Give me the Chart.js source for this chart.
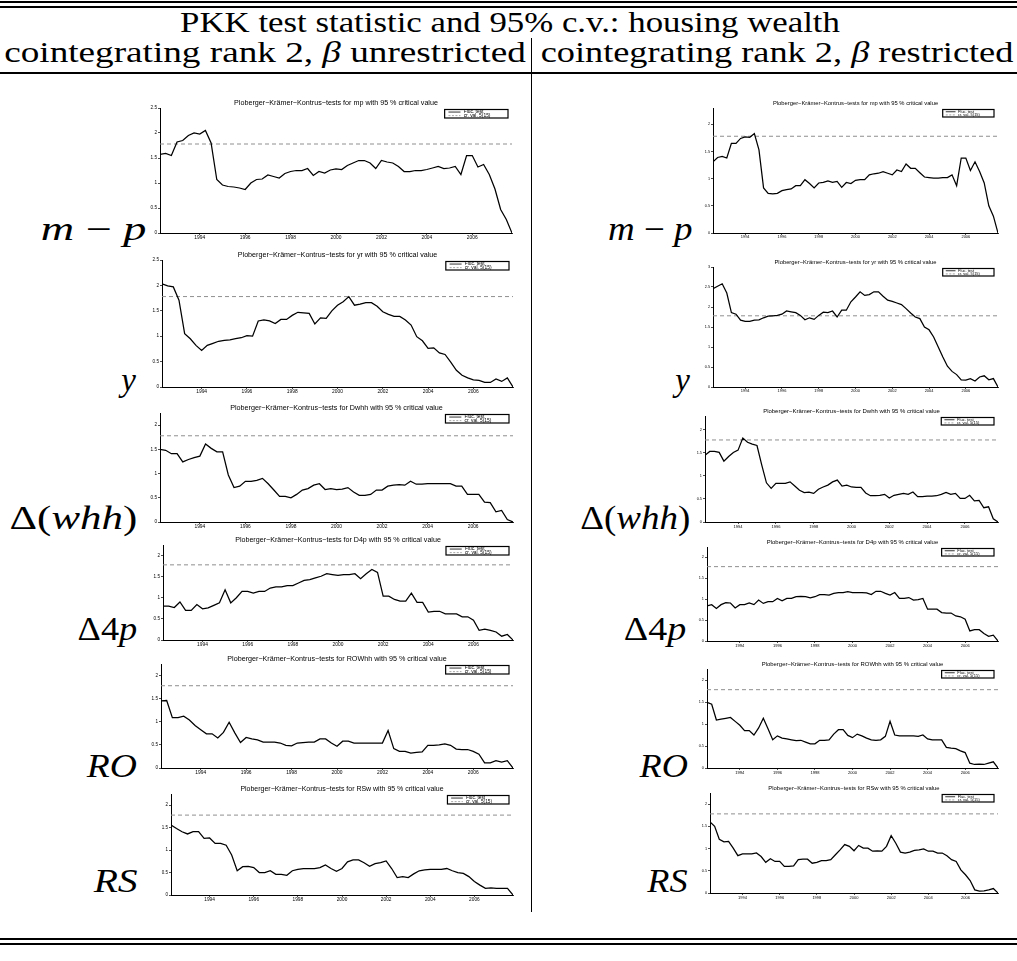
<!DOCTYPE html>
<html>
<head>
<meta charset="utf-8">
<title>PKK test statistic and 95% c.v.: housing wealth</title>
<script src="https://cdn.jsdelivr.net/npm/chart.js@4.4.1/dist/chart.umd.min.js"></script>
<style>
  html, body { margin: 0; padding: 0; background: #fff; }
  #page { position: relative; width: 1017px; height: 961px; overflow: hidden; background: #fff; }
  .rule { position: absolute; background: #000; }
  .tx { position: absolute; white-space: nowrap; line-height: 1; color: #000;
        font-family: "Liberation Serif", "DejaVu Serif", serif; }
  canvas { position: absolute; }
</style>
</head>
<body>
<div id="page"></div>
<script>
// quarterly time axis, 1992Q2 - 2007Q4
const quarters = [
  1992.25, 1992.5, 1992.75,
  1993, 1993.25, 1993.5, 1993.75,
  1994, 1994.25, 1994.5, 1994.75,
  1995, 1995.25, 1995.5, 1995.75,
  1996, 1996.25, 1996.5, 1996.75,
  1997, 1997.25, 1997.5, 1997.75,
  1998, 1998.25, 1998.5, 1998.75,
  1999, 1999.25, 1999.5, 1999.75,
  2000, 2000.25, 2000.5, 2000.75,
  2001, 2001.25, 2001.5, 2001.75,
  2002, 2002.25, 2002.5, 2002.75,
  2003, 2003.25, 2003.5, 2003.75,
  2004, 2004.25, 2004.5, 2004.75,
  2005, 2005.25, 2005.5, 2005.75,
  2006, 2006.25, 2006.5, 2006.75,
  2007, 2007.25, 2007.5, 2007.75
];
const yearTicks = [1994, 1996, 1998, 2000, 2002, 2004, 2006];
const ticksTo2 = [0, 0.5, 1, 1.5, 2];
const ticksTo25 = [0, 0.5, 1, 1.5, 2, 2.5];
const ticksTo3 = [0, 0.5, 1, 1.5, 2, 2.5, 3];
const critValue = 1.78;
const legendLabels = ['Fluc. test', 'cr. val. 5(15)'];

// fluctuation test statistics, beta unrestricted (left) / restricted (right)
const mpUnres = [1.57,1.59,1.55,1.82,1.85,1.95,2.00,1.98,2.05,1.80,
  1.07,0.96,0.93,0.92,0.90,0.87,1.00,1.07,1.08,1.16,
  1.13,1.10,1.19,1.23,1.25,1.25,1.29,1.15,1.23,1.20,
  1.26,1.28,1.27,1.35,1.40,1.45,1.45,1.40,1.29,1.45,
  1.42,1.40,1.33,1.23,1.23,1.25,1.25,1.27,1.30,1.33,
  1.29,1.30,1.33,1.17,1.55,1.55,1.32,1.37,1.17,0.88,
  0.47,0.27,0.00];
const mpRes = [1.31,1.39,1.41,1.38,1.65,1.65,1.74,1.77,1.76,1.83,
  1.53,0.83,0.73,0.72,0.73,0.78,0.80,0.81,0.87,0.87,
  0.98,0.91,0.83,0.92,0.93,0.96,0.93,0.95,0.84,0.93,
  0.91,0.97,0.98,0.98,1.07,1.09,1.10,1.13,1.10,1.07,
  1.16,1.13,1.27,1.19,1.19,1.11,1.03,1.02,1.01,1.01,
  1.02,1.02,1.07,0.87,1.38,1.38,1.15,1.31,1.13,0.92,
  0.50,0.31,0.00];
const yUnres = [2.03,1.99,1.97,1.71,1.05,0.95,0.82,0.72,0.82,0.86,
  0.90,0.92,0.93,0.95,0.97,1.01,1.00,1.30,1.32,1.30,
  1.25,1.33,1.33,1.41,1.47,1.46,1.45,1.24,1.36,1.35,
  1.50,1.61,1.68,1.78,1.61,1.63,1.66,1.66,1.59,1.48,
  1.43,1.39,1.39,1.32,1.22,0.99,0.91,0.76,0.77,0.67,
  0.64,0.49,0.33,0.23,0.18,0.14,0.13,0.09,0.09,0.16,
  0.11,0.18,0.00];
const yRes = [2.46,2.52,2.58,2.35,1.86,1.82,1.67,1.64,1.64,1.67,
  1.68,1.73,1.77,1.78,1.79,1.82,1.90,1.88,1.86,1.79,
  1.68,1.73,1.69,1.79,1.87,1.86,1.90,1.75,1.92,1.92,
  2.13,2.25,2.38,2.29,2.31,2.38,2.38,2.27,2.17,2.14,
  2.10,2.06,1.96,1.85,1.75,1.71,1.50,1.43,1.25,1.00,
  0.75,0.52,0.39,0.31,0.18,0.17,0.21,0.15,0.25,0.28,
  0.18,0.21,0.00];
const dwhhUnres = [1.50,1.48,1.41,1.41,1.24,1.29,1.33,1.36,1.61,1.52,
  1.45,1.45,0.97,0.71,0.74,0.84,0.84,0.86,0.90,0.79,
  0.66,0.53,0.53,0.50,0.57,0.66,0.69,0.76,0.79,0.67,
  0.69,0.67,0.68,0.71,0.62,0.55,0.55,0.57,0.66,0.66,
  0.74,0.76,0.77,0.76,0.84,0.78,0.78,0.79,0.79,0.79,
  0.79,0.79,0.74,0.74,0.57,0.57,0.57,0.41,0.40,0.21,
  0.24,0.05,0.00];
const dwhhRes = [1.45,1.53,1.53,1.51,1.32,1.42,1.51,1.56,1.82,1.73,
  1.69,1.66,1.24,0.85,0.73,0.84,0.84,0.84,0.87,0.78,
  0.69,0.64,0.65,0.62,0.71,0.76,0.80,0.87,0.91,0.78,
  0.80,0.76,0.75,0.75,0.63,0.57,0.57,0.58,0.60,0.52,
  0.58,0.60,0.62,0.60,0.65,0.55,0.55,0.56,0.56,0.57,
  0.60,0.64,0.60,0.62,0.51,0.51,0.58,0.46,0.47,0.31,
  0.33,0.07,0.00];
const d4pUnres = [0.80,0.80,0.77,0.90,0.70,0.70,0.84,0.74,0.76,0.82,
  0.88,1.19,0.88,1.00,1.15,1.15,1.11,1.15,1.15,1.23,
  1.26,1.26,1.29,1.29,1.35,1.41,1.43,1.47,1.51,1.57,
  1.55,1.53,1.55,1.55,1.57,1.45,1.57,1.67,1.60,1.04,
  1.04,0.96,0.92,0.92,1.11,0.89,0.89,0.66,0.68,0.68,
  0.62,0.62,0.62,0.55,0.55,0.47,0.23,0.26,0.23,0.19,
  0.09,0.13,0.00];
const d4pRes = [0.84,0.87,0.78,0.87,0.92,0.91,0.79,0.87,0.87,0.91,
  0.87,0.98,0.90,0.94,0.94,1.02,0.96,1.02,1.02,1.06,
  1.07,1.06,1.03,1.06,1.11,1.11,1.10,1.14,1.16,1.16,
  1.18,1.16,1.16,1.16,1.15,1.11,1.19,1.19,1.14,1.10,
  1.16,1.02,1.02,1.04,0.98,0.99,1.02,0.76,0.76,0.76,
  0.68,0.67,0.67,0.60,0.58,0.52,0.24,0.27,0.27,0.18,
  0.11,0.14,0.00];
const roUnres = [1.45,1.46,1.09,1.09,1.12,1.04,0.92,0.83,0.74,0.74,
  0.65,0.77,0.99,0.76,0.55,0.66,0.63,0.61,0.56,0.56,
  0.56,0.54,0.49,0.48,0.54,0.55,0.56,0.56,0.63,0.63,
  0.54,0.47,0.58,0.58,0.54,0.54,0.54,0.54,0.54,0.54,
  0.81,0.42,0.36,0.36,0.32,0.34,0.35,0.49,0.49,0.50,
  0.52,0.49,0.41,0.40,0.40,0.36,0.30,0.11,0.11,0.16,
  0.13,0.16,0.00];
const roRes = [1.49,1.45,1.09,1.11,1.13,1.15,1.06,0.97,0.85,0.85,
  0.75,0.91,1.13,0.89,0.64,0.73,0.68,0.66,0.64,0.62,
  0.63,0.59,0.55,0.55,0.63,0.63,0.64,0.77,0.87,0.87,
  0.74,0.69,0.77,0.73,0.68,0.64,0.63,0.64,0.72,1.06,
  0.75,0.73,0.73,0.73,0.73,0.72,0.75,0.66,0.64,0.64,
  0.64,0.47,0.45,0.44,0.39,0.35,0.11,0.08,0.09,0.08,
  0.11,0.14,0.00];
const rsUnres = [1.56,1.48,1.41,1.36,1.41,1.41,1.26,1.27,1.15,1.15,
  1.11,0.89,0.54,0.63,0.64,0.61,0.50,0.50,0.54,0.46,
  0.46,0.44,0.54,0.57,0.59,0.59,0.59,0.61,0.67,0.59,
  0.53,0.59,0.74,0.78,0.78,0.72,0.64,0.70,0.72,0.76,
  0.59,0.39,0.41,0.39,0.47,0.54,0.56,0.57,0.57,0.57,
  0.59,0.54,0.50,0.48,0.41,0.30,0.22,0.15,0.16,0.15,
  0.15,0.15,0.00];
const rsRes = [1.60,1.50,1.21,1.15,1.16,1.01,0.84,0.88,0.88,0.88,
  0.90,0.82,0.69,0.77,0.71,0.71,0.60,0.60,0.61,0.75,
  0.76,0.76,0.67,0.69,0.73,0.73,0.75,0.86,0.97,1.09,
  1.05,0.95,1.07,1.01,1.01,0.94,0.95,0.94,1.05,1.29,
  1.12,0.92,0.90,0.92,0.96,0.97,0.99,0.94,0.94,0.90,
  0.90,0.84,0.75,0.71,0.52,0.41,0.28,0.07,0.04,0.05,
  0.07,0.10,0.00];

// table text
const tableTitle = 'PKK test statistic and 95% c.v.: housing wealth';
const colHeads = ['cointegrating rank 2, <i>β</i> unrestricted', 'cointegrating rank 2, <i>β</i> restricted'];
const rowLabels = ['<i>m</i> − <i>p</i>', '<i>y</i>', 'Δ(<i>whh</i>)', 'Δ4<i>p</i>', '<i>RO</i>', '<i>RS</i>'];
const plotNames = ['mp', 'yr', 'Dwhh', 'D4p', 'ROWhh', 'RSw'];

// layout (page pixels)
const rowBase = [241, 392, 530, 641, 778, 893];
const labelRightL = [146, 136, 137, 137, 137, 138];
const labelRightR = [692, 690, 690, 686, 688, 688];
const labelStretchL = [1.4, 1.0, 1.3, 1.1, 1.14, 1.2];
const labelStretchR = [1.12, 1.0, 1.12, 1.15, 1.1, 1.1];

// plot box [left, right, top, bottom]
const panels = [
  { row: 0, series: mpUnres,   box: [160, 512, 108, 233], yMax: 2.5,  yTicks: ticksTo25 },
  { row: 0, series: mpRes,     box: [713, 998, 108, 233], yMax: 2.3,  yTicks: ticksTo2 },
  { row: 1, series: yUnres,    box: [162, 513, 260, 387], yMax: 2.5,  yTicks: ticksTo25 },
  { row: 1, series: yRes,      box: [713, 998, 267, 387], yMax: 3,    yTicks: ticksTo3 },
  { row: 2, series: dwhhUnres, box: [160, 513, 413, 522], yMax: 2.25, yTicks: ticksTo2 },
  { row: 2, series: dwhhRes,   box: [705, 998, 416, 522], yMax: 2.3,  yTicks: ticksTo2 },
  { row: 3, series: d4pUnres,  box: [163, 513, 545, 640], yMax: 2.25, yTicks: ticksTo2 },
  { row: 3, series: d4pRes,    box: [707, 998, 547, 641], yMax: 2.25, yTicks: ticksTo2 },
  { row: 4, series: roUnres,   box: [161, 513, 664, 768], yMax: 2.25, yTicks: ticksTo2 },
  { row: 4, series: roRes,     box: [707, 998, 669, 768], yMax: 2.25, yTicks: ticksTo2 },
  { row: 5, series: rsUnres,   box: [171, 513, 794, 895], yMax: 2.25, yTicks: ticksTo2 },
  { row: 5, series: rsRes,     box: [710, 998, 793, 893], yMax: 2.25, yTicks: ticksTo2 }
];

const page = document.getElementById('page');
const SANS = '"Liberation Sans", Arial, sans-serif';

function rule(x, y, w, h) {
  const d = document.createElement('div');
  d.className = 'rule';
  d.style.left = x + 'px'; d.style.top = y + 'px';
  d.style.width = w + 'px'; d.style.height = h + 'px';
  page.appendChild(d);
}

// place text by its baseline (Liberation Serif, line-height 1), k = horizontal stretch
function put(html, x, base, size, align, k) {
  const el = document.createElement('div');
  el.className = 'tx';
  el.innerHTML = html;
  el.style.fontSize = size + 'px';
  el.style.top = (base - 0.8375 * size) + 'px';
  if (align === 'center') {
    el.style.left = x + 'px';
    el.style.transform = 'translateX(-50%) scaleX(' + k + ')';
  } else {
    el.style.right = (1017 - x) + 'px';
    el.style.transformOrigin = '100% 50%';
    el.style.transform = 'scaleX(' + k + ')';
  }
  page.appendChild(el);
}

// rules of the table
rule(0, 1, 1017, 2);
rule(0, 6, 1017, 1.5);
rule(0, 72, 1017, 1.5);
rule(530.5, 38, 1.5, 874);
rule(0, 938, 1017, 2);
rule(0, 943, 1017, 1.5);

put(tableTitle, 510, 32, 30, 'center', 1.16);
put(colHeads[0], 265, 62, 30, 'center', 1.24);
put(colHeads[1], 776.5, 62, 30, 'center', 1.21);
rowLabels.forEach((lab, i) => {
  put(lab, labelRightL[i], rowBase[i], 33, 'right', labelStretchL[i]);
  put(lab, labelRightR[i], rowBase[i], 33, 'right', labelStretchR[i]);
});

// title + boxed legend, drawn like the original small figures
const panelDecor = {
  id: 'panelDecor',
  afterDraw(chart, args, opts) {
    const { ctx, chartArea: a } = chart;
    const w = a.right - a.left;
    ctx.save();
    ctx.fillStyle = '#000';
    ctx.font = (w / 49).toFixed(2) + 'px ' + SANS;
    ctx.textAlign = 'center';
    ctx.textBaseline = 'middle';
    ctx.fillText(opts.title, (a.left + a.right) / 2, a.top - 5);

    const bw = w * 0.18, bh = w > 320 ? 8.5 : 7.5;
    const bx = a.right - 4 - bw, by = a.top + 1.5;
    ctx.fillStyle = '#fff';
    ctx.fillRect(bx, by, bw, bh);
    ctx.strokeStyle = '#000';
    ctx.lineWidth = 1.2;
    ctx.strokeRect(bx, by, bw, bh);
    ctx.font = (w / 72).toFixed(2) + 'px ' + SANS;
    ctx.textAlign = 'left';
    chart.data.datasets.forEach((ds, i) => {
      const yy = by + bh * (i === 0 ? 0.3 : 0.72);
      ctx.beginPath();
      ctx.setLineDash(ds.borderDash ? [2, 1.5] : []);
      ctx.strokeStyle = ds.borderColor;
      ctx.lineWidth = 0.8;
      ctx.moveTo(bx + bw * 0.06, yy);
      ctx.lineTo(bx + bw * 0.25, yy);
      ctx.stroke();
      ctx.setLineDash([]);
      ctx.fillStyle = '#000';
      ctx.fillText(ds.label, bx + bw * 0.3, yy);
    });
    ctx.restore();
  }
};

const padL = 16, padT = 10, padR = 3, padB = 10;

panels.forEach(p => {
  const [l, r, t, b] = p.box;
  const cv = document.createElement('canvas');
  cv.width = (r - l) + padL + padR;
  cv.height = (b - t) + padT + padB;
  cv.style.left = (l - padL) + 'px';
  cv.style.top = (t - padT) + 'px';
  page.appendChild(cv);

  const fs = (r - l) / 72;

  new Chart(cv.getContext('2d'), {
    type: 'line',
    data: {
      datasets: [
        {
          label: legendLabels[0],
          data: quarters.map((q, i) => ({ x: q, y: p.series[i] })),
          borderColor: '#000',
          borderWidth: 1.25,
          pointRadius: 0,
          tension: 0
        },
        {
          label: legendLabels[1],
          data: [{ x: quarters[0], y: critValue }, { x: quarters[quarters.length - 1], y: critValue }],
          borderColor: '#8f8f8f',
          borderWidth: 1,
          borderDash: [4, 3],
          pointRadius: 0
        }
      ]
    },
    options: {
      responsive: false,
      devicePixelRatio: 1,
      animation: false,
      events: [],
      layout: { padding: { top: padT, right: padR, left: 0, bottom: 0 } },
      plugins: {
        legend: { display: false },
        tooltip: { enabled: false },
        panelDecor: { title: 'Ploberger−Krämer−Kontrus−tests for ' + plotNames[p.row] + ' with 95 % critical value' }
      },
      scales: {
        x: {
          type: 'linear',
          min: quarters[0],
          max: quarters[quarters.length - 1],
          afterBuildTicks: s => { s.ticks = yearTicks.map(v => ({ value: v })); },
          afterFit: s => { s.height = padB; },
          ticks: { autoSkip: false, maxRotation: 0, padding: 0, color: '#000',
                   font: { family: SANS, size: fs }, callback: v => String(v) },
          grid: { drawOnChartArea: false, drawTicks: true, tickLength: 2, color: '#000', lineWidth: 0.7 },
          border: { display: true, color: '#000', width: 1 }
        },
        y: {
          type: 'linear',
          min: 0,
          max: p.yMax,
          afterBuildTicks: s => { s.ticks = p.yTicks.map(v => ({ value: v })); },
          afterFit: s => { s.width = padL; },
          ticks: { padding: 1, color: '#000', font: { family: SANS, size: fs * 0.95 },
                   callback: v => String(v) },
          grid: { drawOnChartArea: false, drawTicks: true, tickLength: 2, color: '#000', lineWidth: 0.7 },
          border: { display: true, color: '#000', width: 1 }
        }
      }
    },
    plugins: [panelDecor]
  });
});
</script>
</body>
</html>
